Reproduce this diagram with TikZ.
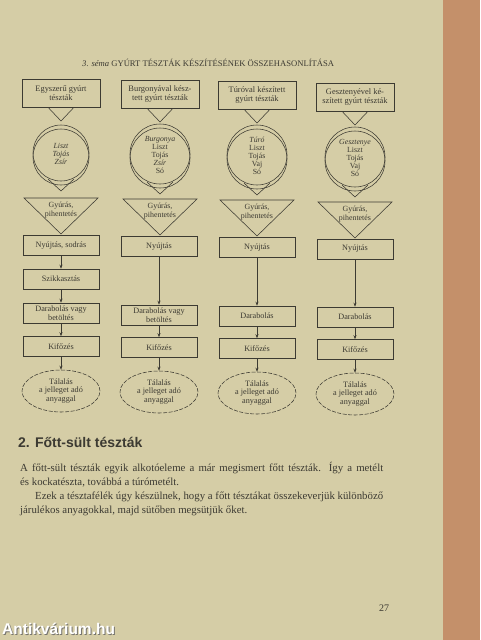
\documentclass[tikz,border=0pt]{standalone}
\usepackage{fontspec}
\setmainfont{Liberation Serif}
\newfontfamily\headfont{Liberation Sans}
\usetikzlibrary{arrows.meta,shapes.geometric}
\definecolor{paper}{HTML}{D5CDA6}
\definecolor{edgebrown}{HTML}{C4906A}
\definecolor{ink}{HTML}{3C3A32}
% #1 id, #2 x, #3 dy, #4 radius, #5 top text, #6 ingredients
\newcommand\colupper[6]{%
 \begin{scope}[shift={(#2,#3)}]
  \node[topbox] (t#1) at (0,93) {#5};
  \coordinate (v#1) at (0,121);
  \draw[ln] ([xshift=-13pt]t#1.south) -- (v#1) -- ([xshift=13pt]t#1.south);
  \node[ring, minimum size=2*#4] (c#1) at (0,153) {};
  \draw[ln] (0,157) circle [radius=#4];
  \node[ing] (i#1) at (0,154) {#6};
  \coordinate (w#1) at (0,153+#4+10);
  \draw[ln] (-13,153+#4-2) -- (w#1) -- (13,153+#4-2);
  \coordinate (g#1) at (0,234);
  \draw[ln] (-37,198) -- (37,198) -- (g#1) -- cycle;
  \node[tri] (gt#1) at (0,210) {Gyúrás,\\pihentetés};
 \end{scope}}
\begin{document}
\begin{tikzpicture}[x=1pt,y=-1pt,
  every node/.style={text=ink},
  ln/.style={draw=ink,line width=0.55pt},
  boxn/.style={ln, minimum width=76pt, minimum height=20pt, inner sep=1pt, align=center, font=\fontsize{8.2}{8.6}\selectfont},
  topbox/.style={boxn, minimum width=78pt, minimum height=28pt, font=\fontsize{8.4}{8.8}\selectfont},
  ring/.style={ln, circle, inner sep=0pt},
  ing/.style={align=center, font=\fontsize{7.8}{8.1}\selectfont},
  tri/.style={align=center, font=\fontsize{7.9}{8.2}\selectfont},
  elln/.style={ln, dash pattern=on 4pt off 1.5pt, ellipse, minimum width=78pt, minimum height=42pt, inner sep=0pt, align=center, font=\fontsize{8.2}{8.6}\selectfont},
  arr/.style={ln,-{Stealth[length=4pt,width=3pt]}},
  para/.style={anchor=base west, inner sep=0pt, font=\fontsize{10.8}{14}\selectfont}
]
\useasboundingbox (0,0) rectangle (480,640);
\fill[paper] (0,0) rectangle (480,640);
\fill[edgebrown] (443,0) rectangle (480,640);

\node[anchor=base west, inner sep=0pt, font=\fontsize{8.6}{9}\selectfont] (title) at (82,66)
  {\textit{3. séma} GYÚRT TÉSZTÁK KÉSZÍTÉSÉNEK ÖSSZEHASONLÍTÁSA};

\colupper{1}{61}{0}{28}{Egyszerű gyúrt\\tészták}{\textit{Liszt}\\\textit{Tojás}\\\textit{Zsír}}
\colupper{2}{160}{1}{30}{Burgonyával kész-\\tett gyúrt tészták}{\textit{Burgonya}\\Liszt\\Tojás\\\textit{Zsír}\\Só}
\colupper{3}{257}{2}{30}{Túróval készített\\gyúrt tészták}{\textit{Túró}\\Liszt\\Tojás\\Vaj\\Só}
\colupper{4}{355}{4}{30}{Gesztenyével ké-\\szített gyúrt tészták}{\textit{Gesztenye}\\Liszt\\Tojás\\Vaj\\Só}

% column 1
\begin{scope}[shift={(61,0)}]
 \node[boxn] (n1) at (0,245.5) {Nyújtás, sodrás};
 \node[boxn] (s1) at (0,279) {Szikkasztás};
 \node[boxn] (d1) at (0,313) {Darabolás vagy\\betöltés};
 \node[boxn] (k1) at (0,346.5) {Kifőzés};
 \node[elln] (e1) at (0,391) {Tálalás\\a jelleget adó\\anyaggal};
\end{scope}
\draw[arr] (n1) -- (s1);
\draw[arr] (s1) -- (d1);
\draw[arr] (d1) -- (k1);
\draw[arr] (k1) -- (e1);

% column 2
\begin{scope}[shift={(159,1)}]
 \node[boxn] (n2) at (0,245.5) {Nyújtás};
 \node[boxn] (d2) at (0,314) {Darabolás vagy\\betöltés};
 \node[boxn] (k2) at (0,346.5) {Kifőzés};
 \node[elln] (e2) at (0,391) {Tálalás\\a jelleget adó\\anyaggal};
\end{scope}
\draw[arr] (n2) -- (d2);
\draw[arr] (d2) -- (k2);
\draw[arr] (k2) -- (e2);

% column 3
\begin{scope}[shift={(257,2)}]
 \node[boxn] (n3) at (0,245.5) {Nyújtás};
 \node[boxn] (d3) at (0,314) {Darabolás};
 \node[boxn] (k3) at (0,346.5) {Kifőzés};
 \node[elln] (e3) at (0,391) {Tálalás\\a jelleget adó\\anyaggal};
\end{scope}
\draw[arr] (n3) -- (d3);
\draw[arr] (d3) -- (k3);
\draw[arr] (k3) -- (e3);

% column 4
\begin{scope}[shift={(355,3)}]
 \node[boxn] (n4) at (0,246) {Nyújtás};
 \node[boxn] (d4) at (0,314) {Darabolás};
 \node[boxn] (k4) at (0,346.5) {Kifőzés};
 \node[elln] (e4) at (0,391) {Tálalás\\a jelleget adó\\anyaggal};
\end{scope}
\draw[arr] (n4) -- (d4);
\draw[arr] (d4) -- (k4);
\draw[arr] (k4) -- (e4);

% text below
\node[anchor=base west, inner sep=0pt, font=\headfont\bfseries\fontsize{14}{16}\selectfont] (head) at (18,447) {2. Főtt-sült tészták};
\node[para] (p1) at (20,471) {\makebox[363pt][s]{A főtt-sült tészták egyik alkotóeleme a már megismert főtt tészták. Így a metélt}};
\node[para] (p2) at (20,485) {és kockatészta, továbbá a túrómetélt.};
\node[para] (p3) at (35,499) {\makebox[348pt][s]{Ezek a tésztafélék úgy készülnek, hogy a főtt tésztákat összekeverjük különböző}};
\node[para] (p4) at (20,513) {járulékos anyagokkal, majd sütőben megsütjük őket.};
\node[anchor=base, inner sep=0pt, font=\fontsize{10}{12}\selectfont] (pg) at (384,611) {27};
\node[anchor=base west, inner sep=0pt, text=ink!70, font=\headfont\bfseries\fontsize{15.5}{17}\selectfont] (wms) at (3,635) {Antikvárium.hu};
\node[anchor=base west, inner sep=0pt, text=white, font=\headfont\bfseries\fontsize{15.5}{17}\selectfont] (wm) at (2,634) {Antikvárium.hu};
\end{tikzpicture}
\end{document}
